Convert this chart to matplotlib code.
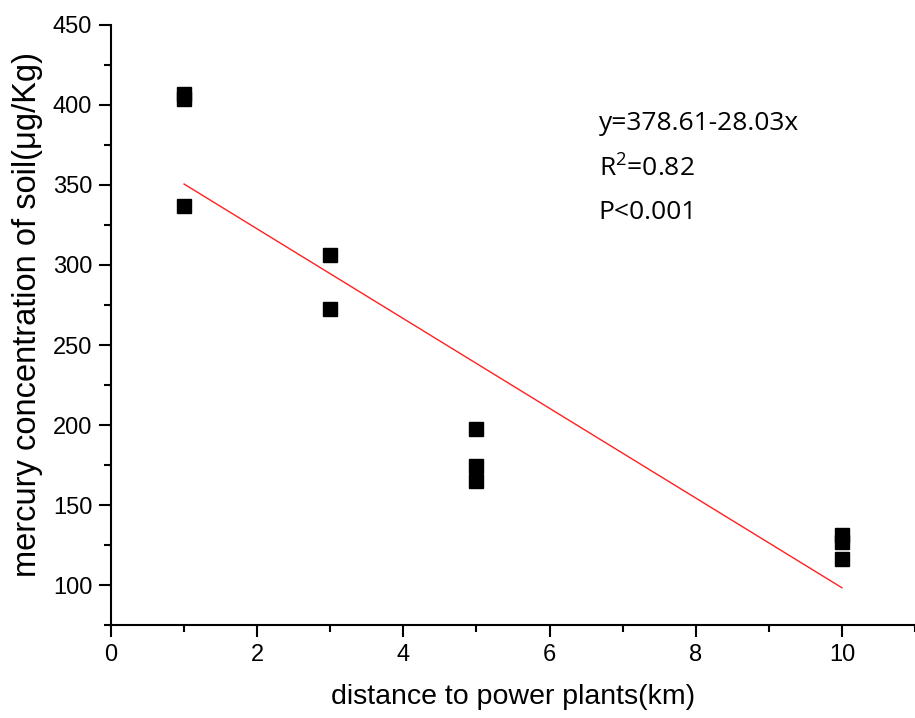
import matplotlib
matplotlib.use('Agg')
import matplotlib.pyplot as plt
from matplotlib.ticker import MultipleLocator

# distance (km) and soil mercury (ug/Kg)
distance = [1, 1, 1, 3, 3, 5, 5, 5, 10, 10, 10]
mercury = [407, 404, 337, 306, 272.5, 197.5, 174.6, 165.2, 131, 127, 116]

# fitted line endpoints
fit_x = [1, 10]
fit_y = [350.6, 98.3]

stats = ['y=378.61-28.03x', 'R$^2$=0.82', 'P<0.001']

plt.rcParams['font.family'] = 'Liberation Sans'
plt.rcParams['mathtext.fontset'] = 'custom'
plt.rcParams['mathtext.rm'] = 'Open Sans'

fig = plt.figure(figsize=(9.15, 7.18), dpi=100)
ax = fig.add_axes([0.1213, 0.1295, 0.8787, 0.8357])

ax.plot(fit_x, fit_y, color='#ff2020', lw=1.0, zorder=2)
ax.plot(distance, mercury, 's', color='black', markersize=9.5, zorder=3)

ax.set_xlim(0, 11)
ax.set_ylim(75, 450)
ax.xaxis.set_major_locator(MultipleLocator(2))
ax.xaxis.set_minor_locator(MultipleLocator(1))
ax.yaxis.set_minor_locator(MultipleLocator(25))
ax.set_yticks([100, 150, 200, 250, 300, 350, 400, 450])

for s in ['top', 'right']:
    ax.spines[s].set_visible(False)
for s in ['left', 'bottom']:
    ax.spines[s].set_linewidth(1.5)
ax.tick_params(which='major', length=8.5, width=1.5, labelsize=17, direction='out')
ax.tick_params(axis='y', which='major', pad=5)
ax.tick_params(axis='x', which='major', pad=5)
ax.tick_params(which='minor', length=5, width=1.5, direction='out')

ax.set_xlabel('distance to power plants(km)', fontsize=20.5, labelpad=13)
ax.set_ylabel('mercury concentration of soil(μg/Kg)', fontsize=23.5, labelpad=7)
ax.yaxis.label.set_y(0.518)

for i, t in enumerate(stats):
    ax.text(6.67, 388.7 - i * 28.1, t, fontsize=19, family='Open Sans', va='center', ha='left')

fig.savefig('out.png', dpi=100)
